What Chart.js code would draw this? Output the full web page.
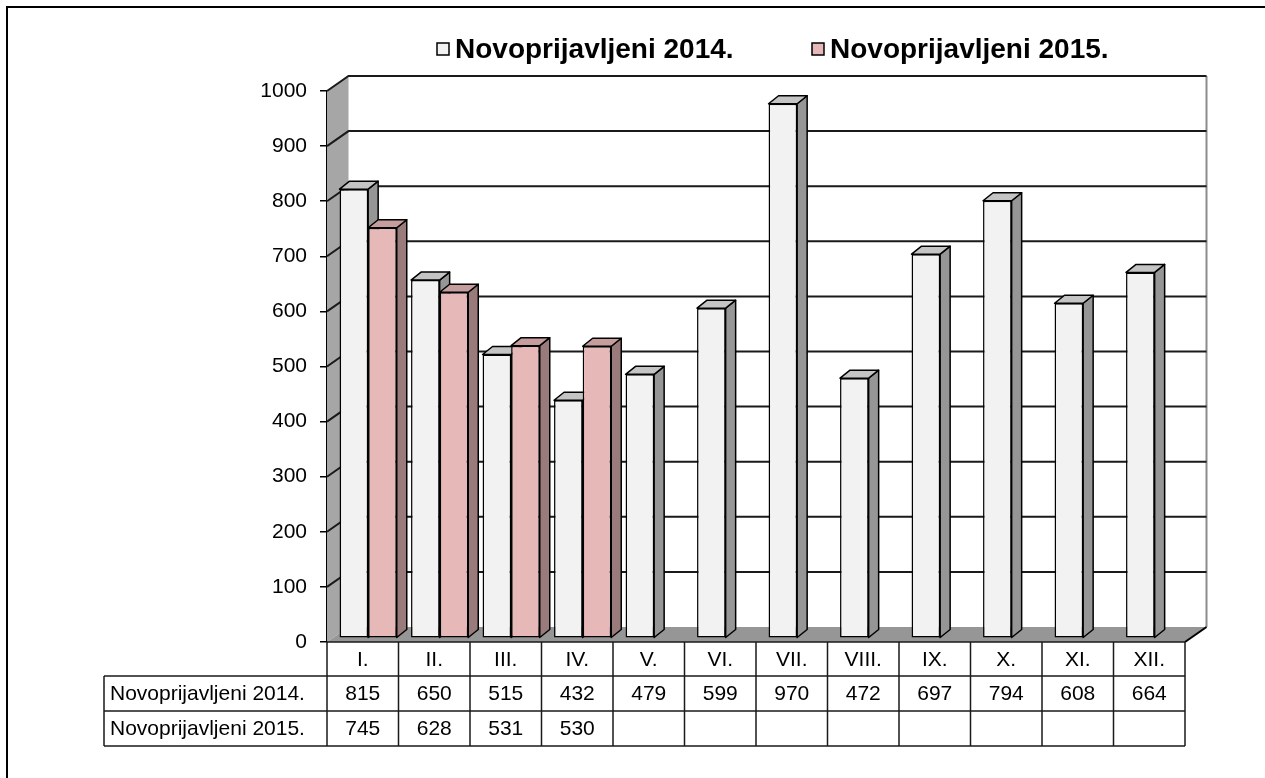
<!DOCTYPE html>
<html><head><meta charset="utf-8">
<script src="https://cdn.jsdelivr.net/npm/chart.js@4.4.0/dist/chart.umd.min.js"></script>
<style>html,body{margin:0;padding:0;background:#fff;overflow:hidden}canvas{display:block}</style>
</head><body>
<canvas id="c" width="1265" height="778"></canvas>
<script>
// ---- data ----
const categories = ['I.','II.','III.','IV.','V.','VI.','VII.','VIII.','IX.','X.','XI.','XII.'];
const seriesNames = ['Novoprijavljeni 2014.','Novoprijavljeni 2015.'];
const values2014 = [815,650,515,432,479,599,970,472,697,794,608,664];
const values2015 = [745,628,531,530,null,null,null,null,null,null,null,null];
const yMin = 0, yMax = 1000, yStep = 100;

// ---- styling ----
const FONT = '"Liberation Sans", Arial, sans-serif';
const DEPTH = {dx:21.5, dy:-15};     // wall depth
const BAR_D = {dx:10, dy:-8};        // bar depth
const BAR_OFF = {dx:5.4, dy:-3.75};  // bars sit a quarter into the depth
const seriesColors = [
  {front:'#f2f2f2', top:'#c4c4c4', side:'#969696'},
  {front:'#e6b9b8', top:'#c49d9c', side:'#9a7b7b'}
];
const seriesValues = [values2014, values2015];

const plot3d = {
  id:'plot3d',
  beforeDatasetsDraw(chart){
    const {ctx, chartArea:a, scales:{y}} = chart;
    ctx.save();
    // left side wall
    ctx.fillStyle = '#a6a6a6';
    ctx.beginPath();
    ctx.moveTo(a.left, a.top); ctx.lineTo(a.left+DEPTH.dx, a.top+DEPTH.dy);
    ctx.lineTo(a.left+DEPTH.dx, a.bottom+DEPTH.dy); ctx.lineTo(a.left, a.bottom);
    ctx.closePath(); ctx.fill();
    // floor
    ctx.fillStyle = '#969696';
    ctx.beginPath();
    ctx.moveTo(a.left, a.bottom); ctx.lineTo(a.right, a.bottom);
    ctx.lineTo(a.right+DEPTH.dx, a.bottom+DEPTH.dy); ctx.lineTo(a.left+DEPTH.dx, a.bottom+DEPTH.dy);
    ctx.closePath(); ctx.fill();
    // back wall right edge
    ctx.strokeStyle = '#8c8c8c'; ctx.lineWidth = 2;
    ctx.beginPath();
    ctx.moveTo(a.right+DEPTH.dx, a.top+DEPTH.dy); ctx.lineTo(a.right+DEPTH.dx, a.bottom+DEPTH.dy);
    ctx.stroke();
    // gridlines
    ctx.strokeStyle = '#1a1a1a'; ctx.lineWidth = 2;
    y.ticks.forEach(t => {
      if (t.value === yMin) return;
      const py = y.getPixelForValue(t.value);
      ctx.beginPath();
      ctx.moveTo(a.left, py); ctx.lineTo(a.left+DEPTH.dx, py+DEPTH.dy);
      ctx.lineTo(a.right+DEPTH.dx, py+DEPTH.dy);
      ctx.stroke();
    });
    // floor right diagonal
    ctx.strokeStyle = '#000'; ctx.lineWidth = 2;
    ctx.beginPath();
    ctx.moveTo(a.right, a.bottom); ctx.lineTo(a.right+DEPTH.dx, a.bottom+DEPTH.dy);
    ctx.stroke();
    ctx.restore();
  },
  beforeDatasetDraw(){ return false; },
  afterDatasetsDraw(chart){
    const ctx = chart.ctx;
    ctx.save();
    ctx.translate(BAR_OFF.dx, BAR_OFF.dy);
    const metas = [chart.getDatasetMeta(0), chart.getDatasetMeta(1)];
    for (let i = 0; i < categories.length; i++) {
      for (let d = 0; d < metas.length; d++) {
        if (seriesValues[d][i] == null) continue;
        const el = metas[d].data[i];
        el.draw(ctx);
        const {x, y, base, width} = el.getProps(['x','y','base','width'], true);
        const l = x - width/2, r = x + width/2;
        const c = seriesColors[d];
        ctx.lineWidth = 1.5; ctx.strokeStyle = '#000'; ctx.lineJoin = 'round';
        // side
        ctx.fillStyle = c.side;
        ctx.beginPath();
        ctx.moveTo(r, y); ctx.lineTo(r+BAR_D.dx, y+BAR_D.dy);
        ctx.lineTo(r+BAR_D.dx, base+BAR_D.dy); ctx.lineTo(r, base);
        ctx.closePath(); ctx.fill(); ctx.stroke();
        // top
        ctx.fillStyle = c.top;
        ctx.beginPath();
        ctx.moveTo(l, y); ctx.lineTo(l+BAR_D.dx, y+BAR_D.dy);
        ctx.lineTo(r+BAR_D.dx, y+BAR_D.dy); ctx.lineTo(r, y);
        ctx.closePath(); ctx.fill(); ctx.stroke();
      }
    }
    ctx.restore();
  },
  afterDraw(chart){
    const {ctx, chartArea:a, scales:{x}} = chart;
    ctx.save();
    const n = categories.length;
    const cw = (a.right - a.left) / n;
    const headTop = a.bottom, headBot = 676, r1Bot = 711, r2Bot = 746, tLeft = 104;
    ctx.strokeStyle = '#1a1a1a'; ctx.lineWidth = 1.5;
    ctx.beginPath();
    // horizontal lines
    ctx.moveTo(a.left, headTop); ctx.lineTo(a.right, headTop);
    [headBot, r1Bot, r2Bot].forEach(yy => { ctx.moveTo(tLeft, yy); ctx.lineTo(a.right, yy); });
    // verticals
    ctx.moveTo(tLeft, headBot); ctx.lineTo(tLeft, r2Bot);
    for (let i = 0; i <= n; i++) {
      const bx = (i < n ? x.getPixelForValue(i) - cw/2 : x.getPixelForValue(n-1) + cw/2);
      ctx.moveTo(bx, headTop); ctx.lineTo(bx, r2Bot);
    }
    ctx.stroke();
    // text
    ctx.fillStyle = '#000';
    ctx.font = '21px ' + FONT;
    ctx.textBaseline = 'middle';
    ctx.textAlign = 'center';
    categories.forEach((c, i) => {
      const cx = x.getPixelForValue(i);
      ctx.fillText(c, cx, (headTop+headBot)/2 + 1);
      if (values2014[i] != null) ctx.fillText(String(values2014[i]), cx, (headBot+r1Bot)/2 + 1);
      if (values2015[i] != null) ctx.fillText(String(values2015[i]), cx, (r1Bot+r2Bot)/2 + 1);
    });
    ctx.textAlign = 'left';
    ctx.fillText(seriesNames[0], 110, (headBot+r1Bot)/2 + 1);
    ctx.fillText(seriesNames[1], 110, (r1Bot+r2Bot)/2 + 1);
    // legend
    const legendItems = [{x:437, name:seriesNames[0], c:seriesColors[0].front},
                         {x:812, name:seriesNames[1], c:seriesColors[1].front}];
    ctx.font = 'bold 28px ' + FONT;
    legendItems.forEach(it => {
      ctx.fillStyle = it.c; ctx.fillRect(it.x, 43, 12, 12);
      ctx.strokeStyle = '#000'; ctx.lineWidth = 1.5; ctx.strokeRect(it.x, 43, 12, 12);
      ctx.fillStyle = '#000';
      ctx.fillText(it.name, it.x + 18, 50);
    });
    // outer frame
    ctx.strokeStyle = '#000'; ctx.lineWidth = 2;
    ctx.beginPath();
    ctx.moveTo(7, 778); ctx.lineTo(7, 7); ctx.lineTo(1265, 7);
    ctx.stroke();
    ctx.restore();
  }
};

new Chart(document.getElementById('c'), {
  type:'bar',
  data:{
    labels: categories,
    datasets:[
      {label:seriesNames[0], data:values2014, backgroundColor:seriesColors[0].front, borderColor:'#000', borderWidth:1.5, borderSkipped:false, categoryPercentage:0.8, barPercentage:1.0},
      {label:seriesNames[1], data:values2015, backgroundColor:seriesColors[1].front, borderColor:'#000', borderWidth:1.5, borderSkipped:false, categoryPercentage:0.8, barPercentage:1.0}
    ]
  },
  options:{
    responsive:false, animation:false, devicePixelRatio:1,
    layout:{padding:{top:91, right:80, bottom:136, left:0}},
    plugins:{legend:{display:false}, tooltip:{enabled:false}, title:{display:false}},
    scales:{
      x:{display:false, offset:true},
      y:{
        min:yMin, max:yMax,
        ticks:{stepSize:yStep, color:'#000', font:{family:FONT, size:21}, padding:13,
               callback:(v) => String(v)},
        grid:{drawOnChartArea:false, drawTicks:true, tickLength:7, color:'#000', lineWidth:1.5},
        border:{display:true, color:'#000', width:1.5},
        afterFit(s){ s.width = 327; }
      }
    }
  },
  plugins:[plot3d]
});
</script>
</body></html>
